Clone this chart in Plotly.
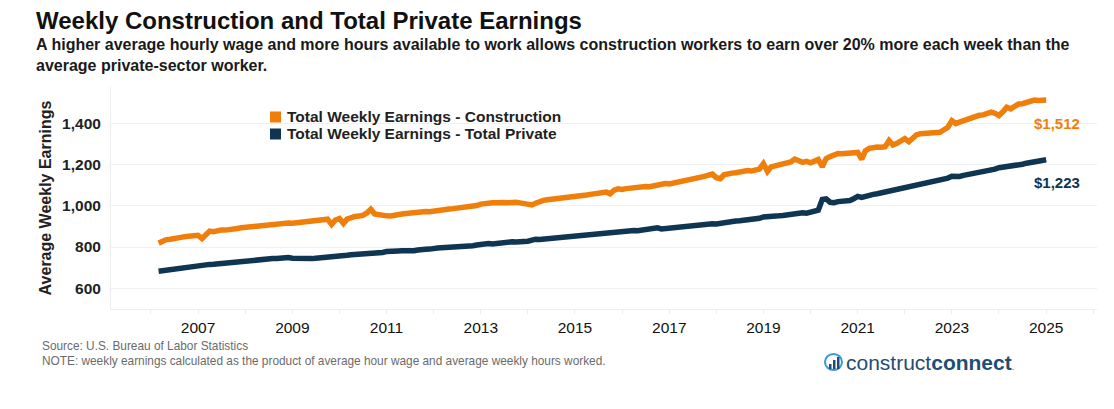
import pandas as pd
import plotly.graph_objects as go

# ---------------- DATA ----------------
start_month = "2006-03-01"   # first monthly observation (last is 2025-01)

construction = [
    # 2006 (Mar-Dec)
    819, 831, 836, 838, 843, 845, 848, 851, 853, 860,
    # 2007
    857, 841, 862, 877, 874, 880, 883, 882, 887, 885, 890, 893,
    # 2008
    895, 897, 900, 902, 905, 903, 907, 912, 910, 914, 913, 916,
    # 2009
    915, 918, 920, 921, 924, 926, 928, 929, 932, 935, 910, 931,
    # 2010
    938, 914, 935, 944, 948, 950, 953, 965, 983, 960, 955, 953,
    # 2011
    951, 950, 955, 958, 960, 962, 965, 968, 966, 970, 972, 971,
    # 2012
    975, 978, 980, 983, 984, 986, 988, 990, 993, 992, 997, 1001,
    # 2013
    1008, 1012, 1013, 1015, 1014, 1018, 1016, 1015, 1019, 1017, 1014, 1012,
    # 2014
    1006, 1004, 1012, 1022, 1026, 1029, 1031, 1032, 1035, 1038, 1040, 1043,
    # 2015
    1046, 1042, 1049, 1052, 1055, 1057, 1061, 1063, 1066, 1058, 1075, 1082,
    # 2016
    1079, 1083, 1086, 1084, 1088, 1090, 1093, 1092, 1097, 1101, 1103, 1108,
    # 2017
    1106, 1110, 1109, 1113, 1118, 1125, 1130, 1132, 1136, 1142, 1148, 1153,
    # 2018
    1136, 1131, 1150, 1156, 1158, 1160, 1164, 1166, 1170, 1168, 1172, 1178,
    # 2019
    1204, 1166, 1188, 1192, 1196, 1199, 1204, 1212, 1226, 1219, 1210, 1215,
    # 2020
    1208, 1216, 1224, 1189, 1228, 1238, 1247, 1253, 1252, 1255, 1257, 1260,
    # 2021
    1258, 1225, 1266, 1278, 1282, 1284, 1283, 1286, 1316, 1294, 1302, 1311,
    # 2022
    1325, 1310, 1330, 1343, 1349, 1350, 1352, 1354, 1357, 1356, 1368, 1380,
    # 2023
    1412, 1398, 1405, 1411, 1418, 1425, 1435, 1438, 1440, 1446, 1453, 1448,
    # 2024
    1437, 1455, 1477, 1469, 1480, 1493, 1494, 1500, 1511, 1512, 1510, 1512,
    # 2025 (Jan)
    1512,
]

total_private = [
    # 2006 (Mar-Dec)
    683, 686, 689, 690, 693, 695, 698, 700, 703, 706,
    # 2007
    708, 709, 713, 716, 717, 719, 722, 724, 727, 726, 729, 731,
    # 2008
    731, 733, 735, 736, 738, 741, 741, 744, 744, 746, 749, 749,
    # 2009
    746, 745, 742, 742, 743, 744, 746, 747, 748, 750, 753, 755,
    # 2010
    757, 756, 760, 763, 764, 764, 766, 768, 769, 773, 772, 774,
    # 2011
    778, 777, 778, 781, 782, 781, 785, 782, 786, 790, 789, 790,
    # 2012
    795, 795, 796, 797, 796, 798, 801, 799, 803, 801, 806, 810,
    # 2013
    813, 816, 817, 815, 818, 820, 818, 823, 825, 824, 829, 827,
    # 2014
    828, 835, 838, 836, 838, 841, 842, 843, 845, 848, 852, 849,
    # 2015
    855, 857, 856, 859, 862, 861, 864, 866, 866, 871, 871, 872,
    # 2016
    876, 877, 878, 880, 879, 882, 885, 886, 886, 893, 888, 890,
    # 2017
    894, 896, 895, 899, 899, 900, 904, 904, 911, 910, 909, 913,
    # 2018
    912, 916, 920, 920, 922, 926, 927, 929, 934, 931, 934, 939,
    # 2019
    946, 946, 950, 949, 951, 953, 956, 959, 958, 962, 966, 964,
    # 2020
    970, 975, 978, 1030, 1033, 1017, 1015, 1020, 1021, 1023, 1025, 1034,
    # 2021
    1045, 1040, 1046, 1050, 1055, 1058, 1062, 1066, 1072, 1076, 1080, 1086,
    # 2022
    1091, 1095, 1098, 1101, 1105, 1108, 1112, 1117, 1121, 1126, 1130, 1134,
    # 2023
    1143, 1140, 1142, 1147, 1150, 1154, 1158, 1162, 1165, 1168, 1172, 1177,
    # 2024
    1184, 1186, 1190, 1191, 1196, 1200, 1201, 1206, 1209, 1211, 1216, 1218,
    # 2025 (Jan)
    1223,
]

series_names = ["Total Weekly Earnings - Construction",
                "Total Weekly Earnings - Total Private"]
end_labels = ["$1,512", "$1,223"]
tick_years = [2007, 2009, 2011, 2013, 2015, 2017, 2019, 2021, 2023, 2025]
tick_labels = [str(y) for y in tick_years]
y_ticks = [600, 800, 1000, 1200, 1400]
y_tick_labels = ["600", "800", "1,000", "1,200", "1,400"]

title = "Weekly Construction and Total Private Earnings"
subtitle = ("A higher average hourly wage and more hours available to work allows construction "
            "workers to earn over 20% more each week than the<br>average private-sector worker.")
source_note = ("Source: U.S. Bureau of Labor Statistics<br>"
               "NOTE: weekly earnings calculated as the product of average hour wage and "
               "average weekly hours worked.")

# ---------------- STYLE / LAYOUT ----------------
OFF = 8                      # page body margin added by the browser
W, H = 1114 - OFF, 409 - OFF  # figure size so that it fits the window
# plot area in page pixels
PL, PR, PT, PB = 111, 1097, 87, 309
L, R, T, B = PL - OFF, PR - OFF, PT - OFF, PB - OFF
ORANGE = "#EF7F0A"
NAVY = "#0E3552"
FONT = "Liberation Sans, Arial, sans-serif"
NARROW = "Liberation Sans Narrow, Arial Narrow, Liberation Sans, Arial, sans-serif"


def px(x):
    """page pixel x -> paper coordinate"""
    return (x - PL) / (PR - PL)


def py(y):
    """page pixel y -> paper coordinate"""
    return (PB - y) / (PB - PT)


dates = pd.date_range(start_month, periods=len(construction), freq="MS")

fig = go.Figure()
fig.add_trace(go.Scatter(x=dates, y=construction, mode="lines", name=series_names[0],
                         line=dict(color=ORANGE, width=5.5), showlegend=False))
fig.add_trace(go.Scatter(x=dates, y=total_private, mode="lines", name=series_names[1],
                         line=dict(color=NAVY, width=5.5), showlegend=False))

annotations = []
shapes = []

# end labels
for vals, lab, col in [(construction, end_labels[0], ORANGE), (total_private, end_labels[1], NAVY)]:
    annotations.append(dict(x=dates[-1], y=vals[-1], xref="x", yref="y", text="<b>%s</b>" % lab,
                            showarrow=False, xanchor="center", yanchor="middle",
                            xshift=11, yshift=-23, font=dict(family=FONT, size=15, color=col)))

# legend (squares + text)
for i, (name, col) in enumerate(zip(series_names, [ORANGE, NAVY])):
    cy = 117 + i * 17
    shapes.append(dict(type="rect", xref="paper", yref="paper",
                       x0=px(270), x1=px(281), y0=py(cy - 5.5), y1=py(cy + 5.5),
                       fillcolor=col, line=dict(width=0)))
    annotations.append(dict(x=px(285), y=py(cy), xref="paper", yref="paper", text="<b>%s</b>" % name,
                            showarrow=False, xanchor="left", yanchor="middle",
                            font=dict(family=FONT, size=15.5, color="#222222")))

# subtitle
annotations.append(dict(x=px(34), y=py(34), xref="paper", yref="paper", text="<b>%s</b>" % subtitle,
                        showarrow=False, xanchor="left", yanchor="top", align="left",
                        font=dict(family=FONT, size=16, color="#1a1a1a")))
# source
annotations.append(dict(x=px(40), y=py(337), xref="paper", yref="paper", text=source_note,
                        showarrow=False, xanchor="left", yanchor="top", align="left",
                        font=dict(family=NARROW, size=11.85, color="#6b6b6b")))
# logo text
annotations.append(dict(x=px(844), y=py(362), xref="paper", yref="paper",
                        text="construct<b>connect</b><span style='font-size:9px'>.</span>",
                        showarrow=False, xanchor="left", yanchor="middle",
                        font=dict(family=FONT, size=21, color="#1f4d74")))
# logo icon
shapes.append(dict(type="circle", xref="paper", yref="paper",
                   x0=px(825), x1=px(842), y0=py(370), y1=py(354),
                   line=dict(color="#3a98d4", width=2)))
for bx, top in [(829, 364), (833, 360), (837, 357)]:
    shapes.append(dict(type="rect", xref="paper", yref="paper",
                       x0=px(bx), x1=px(bx + 2.5), y0=py(369), y1=py(top),
                       fillcolor="#1f4d74", line=dict(width=0)))

fig.update_layout(
    width=W, height=H,
    margin=dict(l=L, r=W - R, t=T, b=H - B, pad=0, autoexpand=False),
    paper_bgcolor="white", plot_bgcolor="white",
    title=dict(text="<b>%s</b>" % title, x=(36 - OFF) / W, xanchor="left", xref="container",
               y=1 - (21 - OFF) / H, yanchor="middle", yref="container",
               font=dict(family=FONT, size=24, color="#111111")),
    annotations=annotations, shapes=shapes,
    showlegend=False,
)
fig.update_xaxes(
    type="date", range=["2005-02-25", "2026-01-30"], automargin=False,
    tickvals=[f"{y}-01-01" for y in tick_years], ticktext=tick_labels,
    tickfont=dict(family=FONT, size=15.5, color="#111111"), tickprefix="<b>", ticksuffix="</b>",
    showgrid=False, showline=True, linecolor="#eeeeee", linewidth=1,
    ticks="outside", ticklen=4, tickcolor="#eeeeee",
    minor=dict(dtick="M12", tick0="2006-01-01", ticks="outside", ticklen=4, tickcolor="#eeeeee"),
    zeroline=False,
)
fig.update_yaxes(
    range=[500, 1575], tickvals=y_ticks, ticktext=["<b>%s</b>" % t for t in y_tick_labels],
    tickfont=dict(family=FONT, size=15.5, color="#222222"), automargin=False,
    showgrid=True, gridcolor="#f0f0f0", gridwidth=1,
    showline=True, linecolor="#eeeeee", linewidth=1, zeroline=False, ticks="", ticklabelstandoff=6,
    title=dict(text="<b>Average Weekly Earnings</b>", standoff=6,
               font=dict(family=FONT, size=16, color="#222222")),
)

fig.write_html("out.html")
